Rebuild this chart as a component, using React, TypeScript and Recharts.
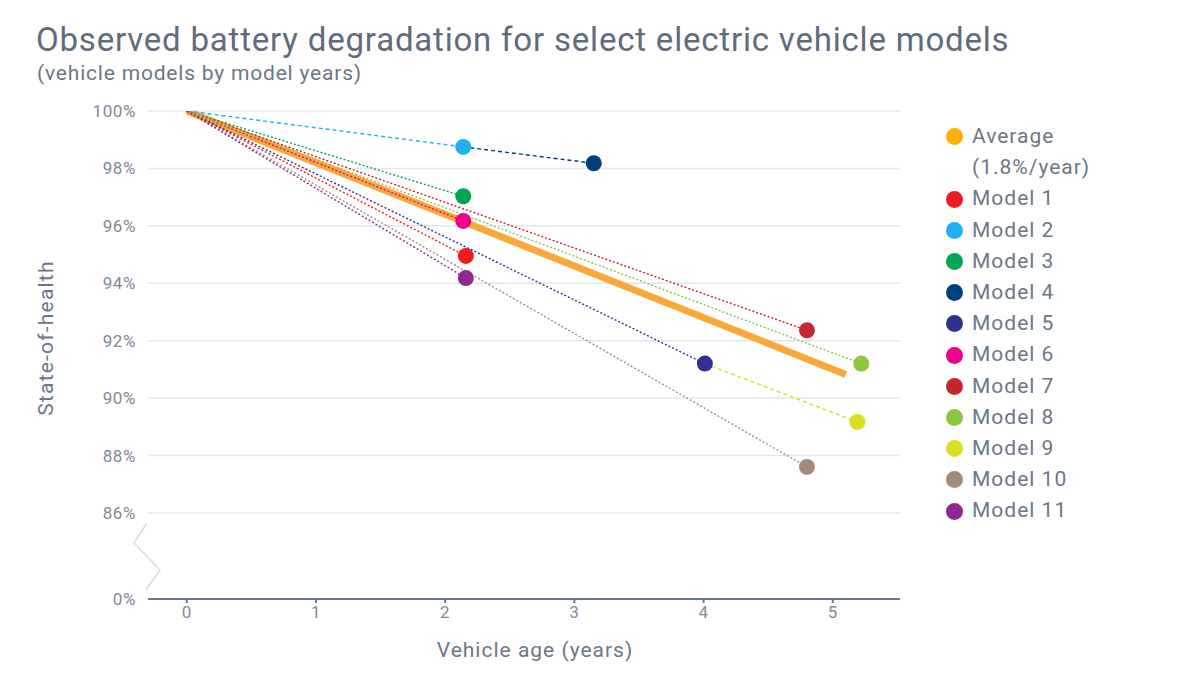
import React from "react";
import { LineChart, Line, XAxis, YAxis, CartesianGrid } from "recharts";

// one entry per model: age (years) and observed state-of-health (%)
const modelNames = [
  "Model 1", "Model 2", "Model 3", "Model 4", "Model 5", "Model 6",
  "Model 7", "Model 8", "Model 9", "Model 10", "Model 11",
];
const modelAges = [2.16, 2.14, 2.14, 3.15, 4.01, 2.14, 4.8, 5.22, 5.19, 4.8, 2.16];
const modelHealth = [94.95, 98.75, 97.03, 98.18, 91.2, 96.17, 92.36, 91.2, 89.17, 87.6, 94.18];
// where each model's trace starts: -1 = new vehicle (0 yrs, 100%), otherwise index of an earlier model
const modelStartsFrom = [-1, -1, -1, 1, -1, -1, -1, -1, 4, -1, -1];
const modelColors = [
  "#ed1c24", "#1fb0ef", "#00a651", "#003f7f", "#2e3192", "#ec008c",
  "#c1272d", "#8dc63f", "#d7df23", "#a38b7c", "#92278f",
];

const averageAges = [0, 5.1];
const averageHealth = [100, 90.82];
const averageLabel = ["Average", "(1.8%/year)"];

const xTicks = [0, 1, 2, 3, 4, 5];
// 83 stands in for 0% below the axis break
const yTicks = [83, 86, 88, 90, 92, 94, 96, 98, 100];
const BREAK_VALUE = 83;

const textColor = "#6b7787";
const font = "Roboto, 'Noto Sans', sans-serif";

const averageData = averageAges.map((x, i) => ({ x, y: averageHealth[i] }));

const modelSeries = modelNames.map((name, i) => {
  const s = modelStartsFrom[i];
  const start = s < 0 ? { x: 0, y: 100 } : { x: modelAges[s], y: modelHealth[s] };
  return {
    name,
    color: modelColors[i],
    dashed: i === 1 || i === 3 || i === 8,
    data: [start, { x: modelAges[i], y: modelHealth[i] }],
  };
});

const endDot = (color: string) => (props: any) => {
  const { cx, cy, index, key } = props;
  if (index !== 1) return <g key={key} />;
  return <circle key={key} cx={cx} cy={cy} r={8} fill={color} stroke="none" />;
};

const tickStyle = { fill: "#7f8a99", fontSize: 17, fontFamily: font, letterSpacing: 0.6 };

export default function App() {
  return (
    <div style={{ position: "relative", width: 1200, height: 673, margin: -8, background: "#fff", fontFamily: font }}>
      <div style={{ position: "absolute", left: 36, top: 20, fontSize: 33, letterSpacing: 0.8, color: "#5f6c7c", whiteSpace: "nowrap" }}>
        Observed battery degradation for select electric vehicle models
      </div>
      <div style={{ position: "absolute", left: 37, top: 61, fontSize: 21, letterSpacing: 0.8, color: textColor, whiteSpace: "nowrap" }}>
        (vehicle models by model years)
      </div>

      <div style={{ position: "absolute", left: 0, top: 0 }}>
        <LineChart
          width={1200}
          height={673}
          margin={{ top: 111, right: 300, bottom: 44, left: 88 }}
        >
          <CartesianGrid vertical={false} stroke="#e3e6ea" strokeWidth={1.5} horizontalValues={yTicks.filter((t) => t !== BREAK_VALUE)} />
          <XAxis
            type="number"
            dataKey="x"
            domain={[-0.3, 5.52]}
            ticks={xTicks}
            allowDataOverflow
            height={30}
            stroke="#6b7a8c"
            strokeWidth={2}
            tickSize={4}
            tickMargin={3}
            tick={tickStyle}
          />
          <YAxis
            type="number"
            dataKey="y"
            domain={[BREAK_VALUE, 100]}
            ticks={yTicks}
            allowDataOverflow
            width={60}
            axisLine={false}
            tickLine={false}
            tickSize={0}
            tickMargin={12}
            tickFormatter={(v: number) => (v === BREAK_VALUE ? "0%" : `${v}%`)}
            tick={tickStyle}
          />
          <Line
            data={averageData}
            dataKey="y"
            name="Average"
            stroke="#f9a93b"
            strokeWidth={7}
            dot={false}
            activeDot={false}
            isAnimationActive={false}
          />
          {modelSeries.map((m) => (
            <Line
              key={m.name}
              data={m.data}
              dataKey="y"
              name={m.name}
              stroke={m.color}
              strokeWidth={1.4}
              strokeDasharray={m.dashed ? "4 3" : "2 2"}
              dot={endDot(m.color)}
              activeDot={false}
              isAnimationActive={false}
            />
          ))}
        </LineChart>
      </div>

      {/* axis break mark */}
      <svg width={40} height={80} style={{ position: "absolute", left: 128, top: 518 }}>
        <polyline points="19,5 6,25 32,52 18,72" fill="none" stroke="#d6dbe1" strokeWidth={1.5} />
      </svg>

      <div
        style={{
          position: "absolute",
          left: 46,
          top: 338,
          transform: "translate(-50%, -50%) rotate(-90deg)",
          fontSize: 21,
          letterSpacing: 1.2,
          color: textColor,
          whiteSpace: "nowrap",
        }}
      >
        State-of-health
      </div>
      <div
        style={{
          position: "absolute",
          left: 535,
          top: 650,
          transform: "translate(-50%, -50%)",
          fontSize: 21,
          letterSpacing: 1,
          color: textColor,
          whiteSpace: "nowrap",
        }}
      >
        Vehicle age (years)
      </div>

      <div style={{ position: "absolute", left: 946, top: 121, fontSize: 21, letterSpacing: 1, color: textColor, lineHeight: "31.2px" }}>
        <div style={{ display: "flex", alignItems: "flex-start" }}>
          <span style={{ width: 17, height: 17, borderRadius: "50%", background: "#ffb000", marginTop: 7, marginRight: 9, flexShrink: 0 }} />
          <div>
            {averageLabel.map((l) => (
              <div key={l}>{l}</div>
            ))}
          </div>
        </div>
        {modelNames.map((name, i) => (
          <div key={name} style={{ display: "flex", alignItems: "center" }}>
            <span style={{ width: 17, height: 17, borderRadius: "50%", background: modelColors[i], marginRight: 9, flexShrink: 0 }} />
            {name}
          </div>
        ))}
      </div>
    </div>
  );
}
